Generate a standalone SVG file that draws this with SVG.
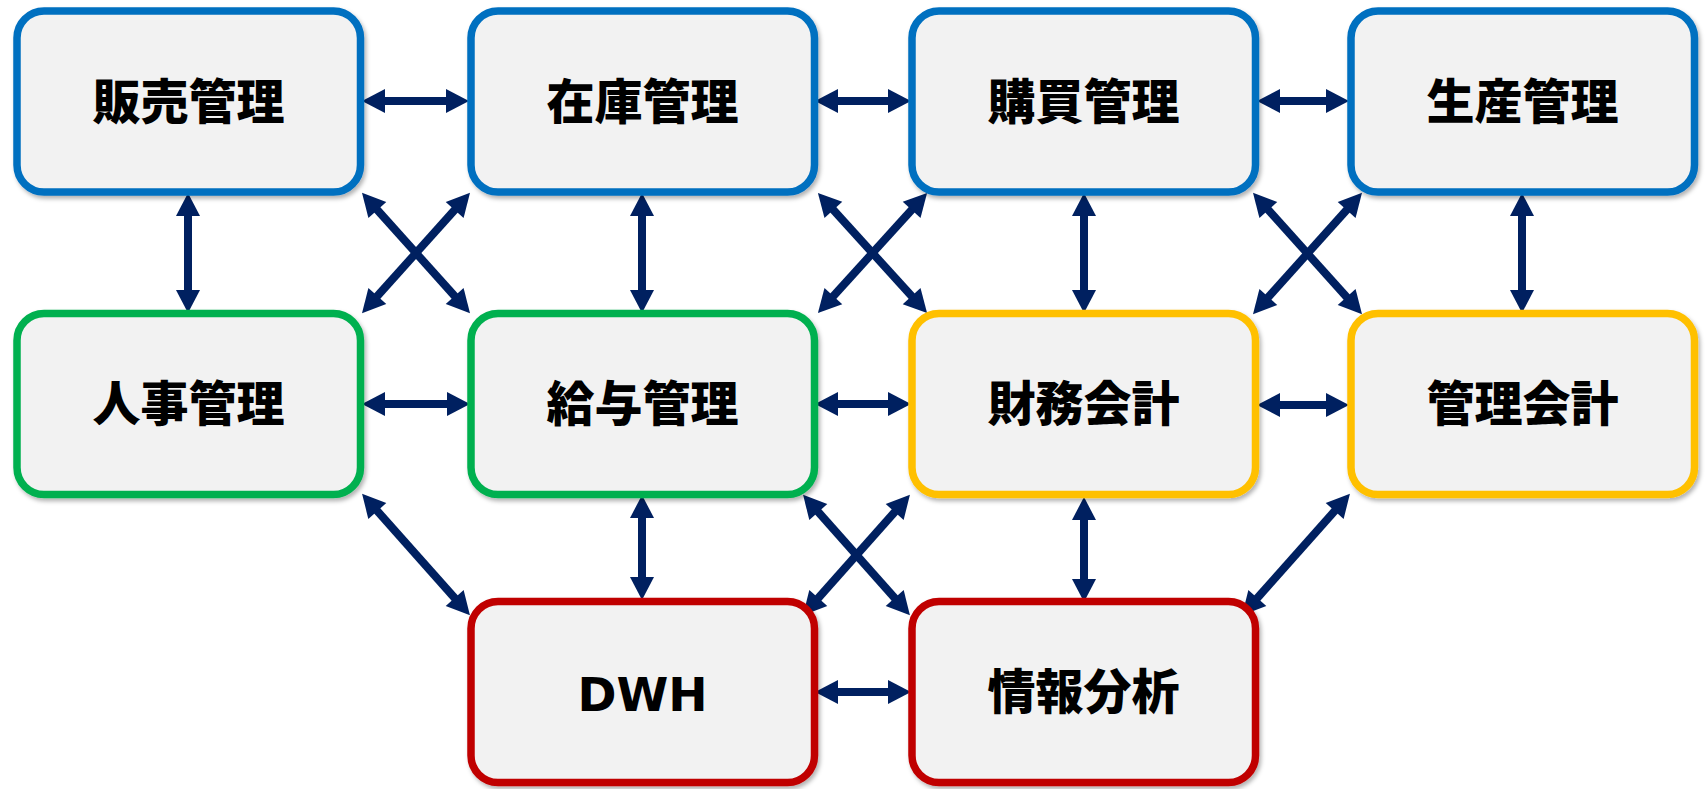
<svg xmlns="http://www.w3.org/2000/svg" width="1706" height="789" viewBox="0 0 1706 789">
<defs>
<style>
.box{fill:#F2F2F2;stroke-width:7.5;filter:url(#sh)}
.blue{stroke:#0070C0}.green{stroke:#00B050}.yellow{stroke:#FFC000}.red{stroke:#C00000}
.lbl{font-family:"Noto Sans CJK JP","Noto Sans",sans-serif;font-weight:900;font-size:48px;fill:#000;text-anchor:middle}
.lat{font-family:"DejaVu Sans","Noto Sans",sans-serif;font-weight:bold;font-size:47px;fill:#000;text-anchor:middle}
.c{fill:none;stroke:#002060;stroke-width:8;marker-start:url(#ah);marker-end:url(#ah)}
</style>
<filter id="sh" x="-10%" y="-10%" width="120%" height="125%">
<feDropShadow dx="2" dy="3" stdDeviation="2" flood-color="#000" flood-opacity="0.3"/>
</filter>
<marker id="ah" markerUnits="userSpaceOnUse" markerWidth="24" markerHeight="24" refX="8" refY="12" orient="auto-start-reverse" overflow="visible">
<path d="M0,0 L23,12 L0,24 z" fill="#002060"/>
</marker>
</defs>
<rect width="1706" height="789" fill="#fff"/>
<g id="connectors">
<path class="c" d="M377,101 H454"/>
<path class="c" d="M830,101 H896"/>
<path class="c" d="M1272,101 H1334"/>
<path class="c" d="M377,404 H455"/>
<path class="c" d="M830,404 H896"/>
<path class="c" d="M1272,405 H1334"/>
<path class="c" d="M830,692 H896"/>
<path class="c" d="M188,208 V298"/>
<path class="c" d="M642,208 V298"/>
<path class="c" d="M1084,208 V298"/>
<path class="c" d="M1522,208 V298"/>
<path class="c" d="M642,510 V585"/>
<path class="c" d="M1084,512 V587"/>
<path class="c" d="M372,204 L460,302"/>
<path class="c" d="M460,204 L372,302"/>
<path class="c" d="M828,204 L917,302"/>
<path class="c" d="M917,204 L828,302"/>
<path class="c" d="M1263,204 L1352,303"/>
<path class="c" d="M1352,204 L1263,303"/>
<path class="c" d="M372,505 L460,604"/>
<path class="c" d="M813,506 L900,604"/>
<path class="c" d="M900,506 L813,604"/>
<path class="c" d="M1340,505 L1252,604"/>
</g>
<g id="n_hanbai"><rect class="box blue" x="17" y="11" width="343.5" height="181" rx="27"/><text class="lbl" x="188.5" y="119">販売管理</text></g>
<g id="n_zaiko"><rect class="box blue" x="471" y="11" width="343.5" height="181" rx="27"/><text class="lbl" x="642.5" y="119">在庫管理</text></g>
<g id="n_kobai"><rect class="box blue" x="912" y="11" width="343.5" height="181" rx="27"/><text class="lbl" x="1083.5" y="119">購買管理</text></g>
<g id="n_seisan"><rect class="box blue" x="1351" y="11" width="343.5" height="181" rx="27"/><text class="lbl" x="1522.5" y="119">生産管理</text></g>
<g id="n_jinji"><rect class="box green" x="17" y="313.5" width="343.5" height="181" rx="27"/><text class="lbl" x="188.5" y="421">人事管理</text></g>
<g id="n_kyuyo"><rect class="box green" x="471" y="313.5" width="343.5" height="181" rx="27"/><text class="lbl" x="642.5" y="421">給与管理</text></g>
<g id="n_zaimu"><rect class="box yellow" x="912" y="313.5" width="343.5" height="181" rx="27"/><text class="lbl" x="1083.5" y="421">財務会計</text></g>
<g id="n_kanri"><rect class="box yellow" x="1351" y="313.5" width="343.5" height="181" rx="27"/><text class="lbl" x="1522.5" y="421">管理会計</text></g>
<g id="n_dwh"><rect class="box red" x="471" y="601.5" width="343.5" height="181" rx="27"/><text class="lat" x="642.5" y="711">DWH</text></g>
<g id="n_joho"><rect class="box red" x="912" y="601.5" width="343.5" height="181" rx="27"/><text class="lbl" x="1083.5" y="709">情報分析</text></g>
</svg>
